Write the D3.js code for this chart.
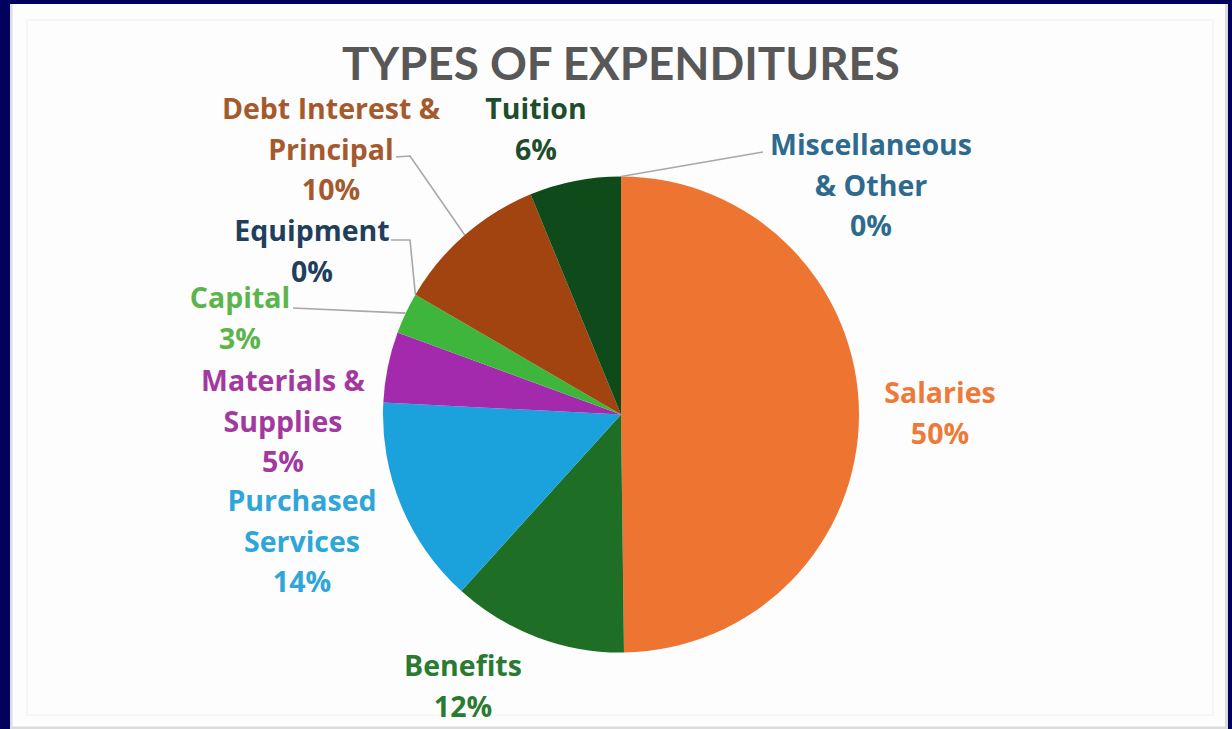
<!DOCTYPE html>
<html>
<head>
<meta charset="utf-8">
<script src="https://cdn.jsdelivr.net/npm/d3@7"></script>
<style>
  html, body { margin: 0; padding: 0; background: #02025e; }
  svg { display: block; }
  text { font-family: Lato, "Open Sans", sans-serif; font-weight: 700; }
  .lbl text { font-family: "Open Sans", Lato, sans-serif; }
</style>
</head>
<body>
<svg id="chart" width="1232" height="729"></svg>
<script>
// Expenditure categories, in drawing order clockwise from 12 o'clock
const categories = [
  "Salaries", "Benefits", "Purchased Services", "Materials & Supplies",
  "Capital", "Equipment", "Debt Interest & Principal", "Tuition",
  "Miscellaneous & Other"
];
// Share of total spending, in percent
const shares = [49.8, 11.9, 14.1, 4.8, 2.8, 0, 10.4, 6.2, 0];
// Label text, broken into lines
const labelLines = [
  ["Salaries"], ["Benefits"], ["Purchased", "Services"], ["Materials &", "Supplies"],
  ["Capital"], ["Equipment"], ["Debt Interest &", "Principal"], ["Tuition"],
  ["Miscellaneous", "& Other"]
];
const sliceColors = ["#ed7431", "#1f6e25", "#1ba1db", "#a42aad", "#3eb63b",
                     "#1f3b57", "#a1440f", "#0f4a1b", "#2d6a8e"];
const labelColors = ["#ee7a3a", "#2a7a32", "#2ea6da", "#a3399f", "#5bb54c",
                     "#213f5c", "#a55a2e", "#1f4d2b", "#2d6a8e"];

// Where each data label sits (centre x, centre y of first line)
const labelPos = {
  "Salaries": [940, 392],
  "Benefits": [463, 665],
  "Purchased Services": [302, 500],
  "Materials & Supplies": [283, 380],
  "Capital": [240, 297],
  "Equipment": [312, 230],
  "Debt Interest & Principal": [331, 108],
  "Tuition": [536, 108],
  "Miscellaneous & Other": [871, 144]
};
// Leader lines: elbow point near the label, then on to the slice edge
const leaders = {
  "Capital": {from: [293, 308], elbow: null},
  "Equipment": {from: [391, 240], elbow: [410, 240]},
  "Debt Interest & Principal": {from: [396, 157], elbow: [410, 156]},
  "Miscellaneous & Other": {from: [763, 152], elbow: null}
};

const W = 1232, H = 729;
const cx = 621, cy = 414.5, R = 238;
const lineGap = 40.5;

const svg = d3.select("#chart");

// Frame: navy surround with a white card
svg.append("rect").attr("width", W).attr("height", H).attr("fill", "#02025e");
svg.append("rect").attr("x", 10).attr("y", 4).attr("width", 1218).attr("height", 725)
  .attr("fill", "#fdfdfd");
svg.append("rect").attr("x", 10).attr("y", 4).attr("width", 2.5).attr("height", 725)
  .attr("fill", "#dedede");
svg.append("rect").attr("x", 1225).attr("y", 4).attr("width", 3).attr("height", 725)
  .attr("fill", "#dcdcdc");
svg.append("rect").attr("x", 10).attr("y", 726.5).attr("width", 1218).attr("height", 2.5)
  .attr("fill", "#dcdcdc");
svg.append("rect").attr("x", 27).attr("y", 20).attr("width", 1186).attr("height", 695)
  .attr("fill", "none").attr("stroke", "#f1f1f1").attr("stroke-width", 1);

// Title, sized to its measured width
const title = svg.append("text")
  .attr("x", cx).attr("y", 62)
  .attr("text-anchor", "middle").attr("dominant-baseline", "central")
  .attr("fill", "#585858")
  .style("font-size", "44px")
  .text("TYPES OF EXPENDITURES");
{
  const w = title.node().getComputedTextLength();
  title.style("font-size", (44 * 558 / w) + "px");
}

const data = categories.map((c, i) => ({
  name: c, value: shares[i], lines: labelLines[i],
  color: sliceColors[i], labelColor: labelColors[i]
}));

const pie = d3.pie().value(d => d.value).sort(null);
const arcs = pie(data);
const arc = d3.arc().innerRadius(0).outerRadius(R);

const g = svg.append("g").attr("transform", `translate(${cx},${cy})`);
g.selectAll("path.slice")
  .data(arcs.filter(a => a.data.value > 0))
  .join("path")
  .attr("class", "slice")
  .attr("d", arc)
  .attr("fill", d => d.data.color);

// Point on the pie rim at the middle of a slice
function rimPoint(a) {
  const ang = (a.startAngle + a.endAngle) / 2;
  return [cx + R * Math.sin(ang), cy - R * Math.cos(ang)];
}

// Leader lines
arcs.forEach(a => {
  const l = leaders[a.data.name];
  if (!l) return;
  const pts = [l.from];
  if (l.elbow) pts.push(l.elbow);
  pts.push(rimPoint(a));
  svg.append("path")
    .attr("d", d3.line()(pts))
    .attr("fill", "none")
    .attr("stroke", "#a8a8a8")
    .attr("stroke-width", 1.6);
});

// Data labels: name lines followed by the rounded percentage
const labels = svg.append("g").attr("class", "lbl").style("font-size", "24px");
// size the label font so the widest word spans about 202px
{
  const probe = labels.append("text").text("Miscellaneous");
  const w = probe.node().getComputedTextLength();
  labels.style("font-size", (24 * 202 / w) + "px");
  probe.remove();
}
arcs.forEach(a => {
  const [x, y] = labelPos[a.data.name];
  const lines = a.data.lines.concat([Math.round(a.data.value) + "%"]);
  const t = labels.append("text")
    .attr("text-anchor", "middle")
    .attr("fill", a.data.labelColor);
  lines.forEach((s, i) => {
    t.append("tspan")
      .attr("x", x).attr("y", y + i * lineGap)
      .attr("dominant-baseline", "central")
      .text(s);
  });
});
</script>
</body>
</html>
